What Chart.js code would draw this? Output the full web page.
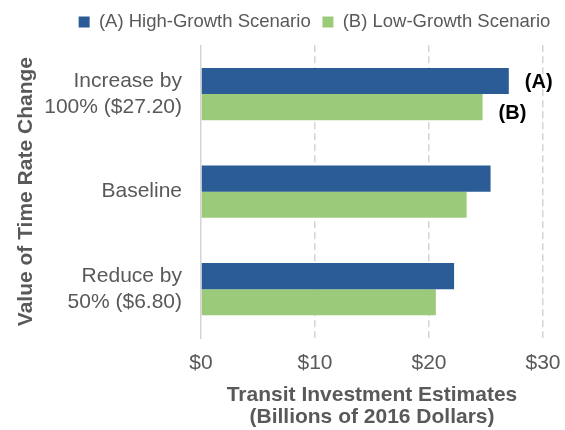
<!DOCTYPE html>
<html>
<head>
<meta charset="utf-8">
<title>Transit Investment Estimates</title>
<script src="https://cdn.jsdelivr.net/npm/chart.js@4/dist/chart.umd.min.js"></script>
<style>
  html, body { margin: 0; padding: 0; background: #fff; }
  #wrap { width: 565px; height: 430px; }
</style>
</head>
<body>
<div id="wrap"><canvas id="chart" width="565" height="430"></canvas></div>
<script>
// Value-of-time scenarios (y axis) and investment estimates in $B
const categories = [["Increase by", "100% ($27.20)"], "Baseline", ["Reduce by", "50% ($6.80)"]];
const seriesNames = ["(A) High-Growth Scenario", "(B) Low-Growth Scenario"];
const highGrowth = [27.0, 25.4, 22.2];
const lowGrowth = [24.7, 23.3, 20.6];
const xTicks = [0, 10, 20, 30];
const tagLabels = ["(A)", "(B)"];

const GREY = "#595959";
const GRID = "#d4d4d4";
const FONT = "'Liberation Sans', Arial, sans-serif";

// nudges the legend row so it sits over the plot like the original layout
const legendShift = {
  id: "legendShift",
  afterLayout(chart) {
    const l = chart.legend;
    const dx = 40, dy = -4;
    l.left += dx; l.right += dx;
    l.top += dy; l.bottom += dy;
  }
};

// bold (A)/(B) tags next to the first pair of bars
const barTags = {
  id: "barTags",
  afterDatasetsDraw(chart) {
    const ctx = chart.ctx;
    const yOff = [1, 6];
    ctx.save();
    ctx.font = "bold 20px " + FONT;
    ctx.fillStyle = "#000";
    ctx.textAlign = "left";
    ctx.textBaseline = "middle";
    chart.data.datasets.forEach((ds, i) => {
      const bar = chart.getDatasetMeta(i).data[0];
      ctx.fillText(tagLabels[i], bar.x + 16, bar.y + yOff[i]);
    });
    ctx.restore();
  }
};

new Chart(document.getElementById("chart"), {
  type: "bar",
  data: {
    labels: categories,
    datasets: [
      { label: seriesNames[0], data: highGrowth, backgroundColor: "#2B5C95" },
      { label: seriesNames[1], data: lowGrowth, backgroundColor: "#9BCA7B" }
    ]
  },
  options: {
    indexAxis: "y",
    responsive: false,
    animation: false,
    devicePixelRatio: 1,
    barPercentage: 1,
    categoryPercentage: 0.535,
    layout: { padding: { left: 6, right: 22, top: 5, bottom: 1 } },
    plugins: {
      legend: {
        position: "top",
        labels: {
          boxWidth: 11,
          boxHeight: 11,
          padding: 11.75,
          color: GREY,
          font: { family: FONT, size: 18.5 }
        }
      },
      tooltip: { enabled: false }
    },
    scales: {
      x: {
        min: 0,
        max: 30,
        afterBuildTicks: s => { s.ticks = xTicks.map(v => ({ value: v })); },
        afterFit: s => { s.height = 91; },
        ticks: {
          color: GREY,
          padding: 4,
          font: { family: FONT, size: 21 },
          callback: v => "$" + v
        },
        grid: {
          drawTicks: true,
          tickLength: 9,
          tickColor: "rgba(0,0,0,0)",
          lineWidth: 1.5,
          color: c => (c.tick && c.tick.value === 0 ? "rgba(0,0,0,0)" : GRID)
        },
        border: { display: false, dash: [7, 4] },
        title: {
          display: true,
          text: ["Transit Investment Estimates", "(Billions of 2016 Dollars)"],
          color: GREY,
          font: { family: FONT, size: 21, weight: "bold", lineHeight: 1.05 },
          padding: { top: 4, bottom: 1 }
        }
      },
      y: {
        afterFit: s => { s.width = 195; },
        ticks: {
          color: GREY,
          padding: 11,
          font: { family: FONT, size: 21, lineHeight: 1.24 }
        },
        grid: { display: false },
        border: { display: true, color: GRID, width: 1.5 },
        title: {
          display: true,
          text: "Value of Time Rate Change",
          color: GREY,
          font: { family: FONT, size: 21, weight: "bold" },
          padding: { top: 8, bottom: 0 }
        }
      }
    }
  },
  plugins: [legendShift, barTags]
});
</script>
</body>
</html>
